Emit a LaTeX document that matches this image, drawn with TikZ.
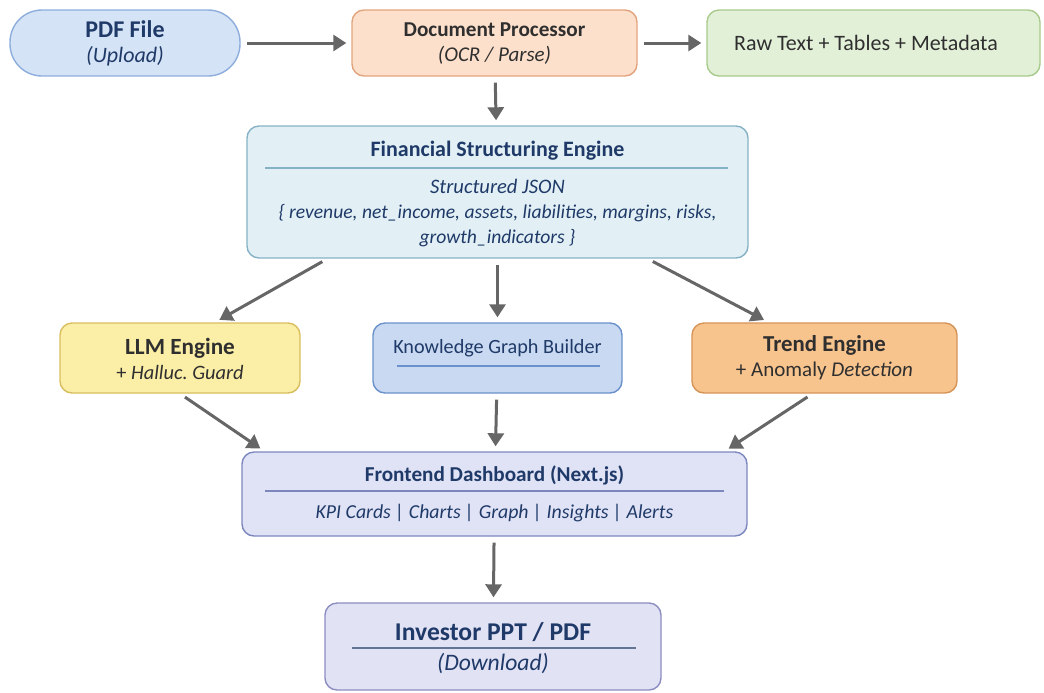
\documentclass[tikz,border=0pt]{standalone}
\usepackage{fontspec}
\setmainfont{Carlito}
\usetikzlibrary{arrows.meta}
\definecolor{navy}{HTML}{1F3A68}
\definecolor{ink}{HTML}{2F2F2F}
\definecolor{arrowgray}{HTML}{666666}
\definecolor{pdffill}{HTML}{D5E3F6}
\definecolor{pdfline}{HTML}{8DAEDC}
\definecolor{docfill}{HTML}{FCE0CB}
\definecolor{docline}{HTML}{E2A47E}
\definecolor{rawfill}{HTML}{E3F0D8}
\definecolor{rawline}{HTML}{A8CB8C}
\definecolor{fsefill}{HTML}{E2F0F5}
\definecolor{fseline}{HTML}{86B2C6}
\definecolor{llmfill}{HTML}{FBEEA6}
\definecolor{llmline}{HTML}{D8BE5E}
\definecolor{kgbfill}{HTML}{C8D9F1}
\definecolor{kgbline}{HTML}{6A91CB}
\definecolor{trdfill}{HTML}{F8C48E}
\definecolor{trdline}{HTML}{D59458}
\definecolor{dshfill}{HTML}{E0E2F5}
\definecolor{dshline}{HTML}{7C87BE}
\definecolor{invfill}{HTML}{E2E2F5}
\definecolor{invline}{HTML}{8C8DC0}

\begin{document}
\begin{tikzpicture}[x=0.5pt,y=-0.5pt,
  box/.style={draw, rounded corners=6pt, line width=0.7pt, inner sep=0pt},
  conn/.style={->, draw=arrowgray, line width=1.5pt, shorten <=3pt, shorten >=2.5pt},
  >={Triangle[length=6.5pt,width=8pt]},
  head/.style={align=center},
  body/.style={align=center},
  rule/.style={line width=0.7pt}]
\useasboundingbox (0,0) rectangle (1044,692);

\node[box, fill=pdffill, draw=pdfline, rounded corners=16pt, minimum width=115pt, minimum height=33pt] (pdf) at (125,43) {};
\node[head, navy, font=\fontsize{12}{12.5}\selectfont\bfseries] (pdft) at (125,43) {PDF File\\\fontsize{11}{12.5}\selectfont\mdseries\itshape (Upload)};

\node[box, fill=docfill, draw=docline, minimum width=142.5pt, minimum height=33pt] (doc) at (494.5,43) {};
\node[head, ink, font=\fontsize{10.6}{12.5}\selectfont\bfseries] (doct) at (494.5,44) {Document Processor\\\fontsize{10.5}{12.5}\selectfont\mdseries\itshape (OCR / Parse)};

\node[box, fill=rawfill, draw=rawline, minimum width=166.5pt, minimum height=33pt] (raw) at (873.5,43) {};
\node[body, ink, font=\fontsize{11}{12.5}\selectfont] (rawt) at (866,43) {Raw Text + Tables + Metadata};

\node[box, fill=fsefill, draw=fseline, minimum width=250.5pt, minimum height=66pt] (fse) at (497.5,192) {};
\node[head, navy, font=\fontsize{11}{12}\selectfont\bfseries] (fset) at (497.5,151) {Financial Structuring Engine};
\draw[rule, fseline] (265,168) -- (728,168);
\node[body, navy, font=\fontsize{9.8}{12.5}\selectfont\itshape] (fseb) at (497.5,213) {\fontsize{10.3}{12.5}\selectfont Structured JSON\\\{ revenue, net\_income, assets, liabilities, margins, risks,\\growth\_indicators \}};

\node[box, fill=llmfill, draw=llmline, minimum width=120pt, minimum height=35pt] (llm) at (180,358) {};
\node[head, ink, font=\fontsize{11.6}{12.5}\selectfont\bfseries] (llmt) at (180,359) {LLM Engine\\\fontsize{10.2}{12.5}\selectfont\mdseries + \itshape Halluc.\ Guard};

\node[box, fill=kgbfill, draw=kgbline, minimum width=124.5pt, minimum height=35pt] (kgb) at (497.5,358) {};
\node[body, navy, font=\fontsize{10.1}{12}\selectfont] (kgbt) at (497.5,348) {Knowledge Graph Builder};
\draw[rule, kgbline] (397,366) -- (600,366);

\node[box, fill=trdfill, draw=trdline, minimum width=132.5pt, minimum height=35pt] (trd) at (824.5,358) {};
\node[head, ink, font=\fontsize{11.4}{12.5}\selectfont\bfseries] (trdt) at (824.5,358) {Trend Engine\\\fontsize{10.5}{12.5}\selectfont\mdseries + Anomaly \itshape Detection};

\node[box, fill=dshfill, draw=dshline, minimum width=252.5pt, minimum height=42pt] (dsh) at (494.5,494) {};
\node[head, navy, font=\fontsize{10.6}{12}\selectfont\bfseries] (dsht) at (494.5,475) {Frontend Dashboard (Next.js)};
\draw[rule, dshline] (265,491) -- (724,491);
\node[body, navy, font=\fontsize{9.9}{12}\selectfont\itshape] (dshb) at (494.5,513) {KPI Cards | Charts | Graph | Insights | Alerts};

\node[box, fill=invfill, draw=invline, minimum width=168pt, minimum height=43.5pt] (inv) at (493,646.5) {};
\node[head, navy, font=\fontsize{12.8}{14}\selectfont\bfseries] (invt) at (493,632) {Investor PPT / PDF};
\draw[rule, navy!70] (352,648) -- (636,648);
\node[body, navy, font=\fontsize{11.8}{13}\selectfont\itshape] (invb) at (493,663) {(Download)};

\draw[conn] (pdf) -- (doc);
\draw[conn] (doc) -- (raw);
\draw[conn] (doc) -- (fse);
\draw[conn] ([xshift=-85pt]fse.south) -- ([xshift=17.5pt]llm.north);
\draw[conn] (fse) -- (kgb);
\draw[conn] ([xshift=75pt]fse.south) -- ([xshift=-28pt]trd.north);
\draw[conn] (llm.south) -- ([xshift=-115pt]dsh.north);
\draw[conn] (kgb) -- (dsh);
\draw[conn] ([xshift=-6pt]trd.south) -- ([xshift=115pt]dsh.north);
\draw[conn] (dsh) -- (inv);
\end{tikzpicture}
\end{document}
